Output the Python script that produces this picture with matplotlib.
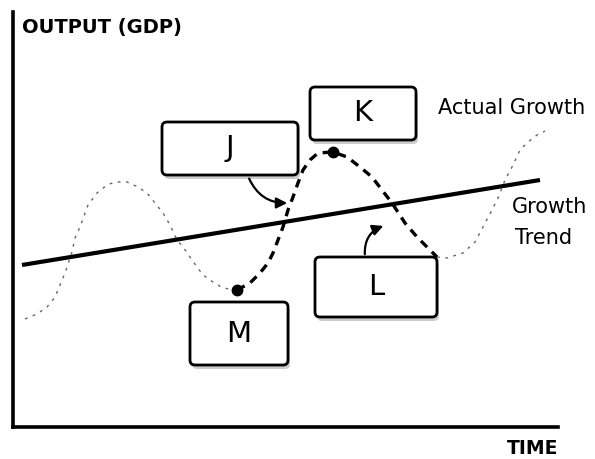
import matplotlib.pyplot as plt
from matplotlib.patches import FancyBboxPatch

# actual growth path (time, output)
early_t = [12, 24, 34, 42, 47, 52, 59, 62, 67, 75, 84, 94, 102, 114, 125, 134,
           142, 150, 157, 164, 170, 177, 184, 190, 200, 210, 224]
early_y = [108, 113, 120, 130, 142, 154, 175, 189, 200, 222, 234, 242, 245, 245,
           240, 234, 224, 214, 202, 187, 180, 170, 160, 152, 145, 139, 137]
cycle_t = [224, 237, 247, 255, 260, 265, 270, 275, 280, 285, 290, 297, 305, 320,
           334, 347, 359, 369, 379, 392, 404, 414, 424]
cycle_y = [137, 144, 154, 164, 174, 187, 200, 217, 230, 244, 257, 267, 274, 275,
           270, 260, 250, 237, 224, 204, 190, 180, 170]
late_t = [424, 434, 450, 462, 470, 479, 485, 492, 499, 507, 515, 524, 532]
late_y = [170, 169, 174, 185, 200, 217, 229, 247, 260, 277, 285, 292, 296]

# growth trend
trend_t = [9, 527]
trend_y = [162, 247]

# trough (M) and peak (K)
point_t = [224, 320]
point_y = [137, 275]

fig = plt.figure(figsize=(5.95, 4.59), dpi=100)
ax = fig.add_axes([13 / 595, 32 / 459, 545 / 595, 415 / 459])
ax.set_xlim(0, 545)
ax.set_ylim(0, 415)

ax.plot(early_t, early_y, color='#666666', lw=1.0, ls=(0, (2, 4)))
ax.plot(late_t, late_y, color='#666666', lw=1.0, ls=(0, (2, 4)))
ax.plot(cycle_t, cycle_y, color='black', lw=2.4, ls=(0, (2.6, 2.0)))
ax.plot(trend_t, trend_y, color='black', lw=3.0, solid_capstyle='butt')
ax.plot(point_t, point_y, 'o', color='black', markersize=7.5)


def label_box(x0, y0, x1, y1, text):
    shadow = FancyBboxPatch((x0 + 2, y0 - 4), x1 - x0, y1 - y0,
                            boxstyle='round,pad=0,rounding_size=5',
                            fc='#cccccc', ec='none', zorder=3)
    box = FancyBboxPatch((x0, y0), x1 - x0, y1 - y0,
                         boxstyle='round,pad=0,rounding_size=5',
                         fc='white', ec='black', lw=2.0, zorder=4)
    ax.add_patch(shadow)
    ax.add_patch(box)
    ax.text((x0 + x1) / 2, (y0 + y1) / 2, text, ha='center', va='center',
            fontsize=21, zorder=5)


label_box(149, 252, 285, 305, 'J')
label_box(297, 287, 403, 340, 'K')
label_box(302, 110, 424, 170, 'L')
label_box(177, 62, 275, 125, 'M')

ax.annotate('', xy=(277, 224), xytext=(235, 251),
            arrowprops=dict(arrowstyle='-|>', color='black', lw=1.6,
                            mutation_scale=16,
                            connectionstyle='arc3,rad=0.35'))
ax.annotate('', xy=(373, 202), xytext=(352, 170),
            arrowprops=dict(arrowstyle='-|>', color='black', lw=1.6,
                            mutation_scale=16,
                            connectionstyle='arc3,rad=-0.4'))

ax.text(9, 409, 'OUTPUT (GDP)', fontsize=14, fontweight='bold',
        ha='left', va='top')
ax.text(425, 319, 'Actual Growth', fontsize=15, ha='left', va='center')
ax.text(499, 220, 'Growth', fontsize=15, ha='left', va='center')
ax.text(502, 189, 'Trend', fontsize=15, ha='left', va='center')
fig.text(558 / 595, 1 - 448 / 459, 'TIME', fontsize=13.5, fontweight='bold',
         ha='right', va='center')

for side in ['top', 'right']:
    ax.spines[side].set_visible(False)
for side in ['left', 'bottom']:
    ax.spines[side].set_linewidth(2.6)
ax.set_xticks([])
ax.set_yticks([])

fig.savefig('out.png', dpi=100)
